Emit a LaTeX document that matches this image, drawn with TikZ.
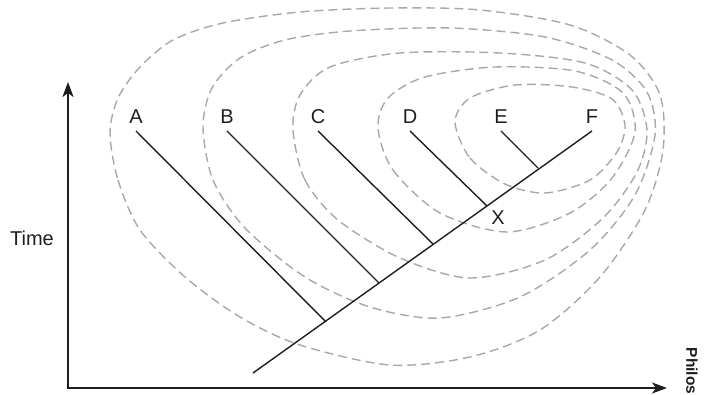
\documentclass[tikz,border=0pt]{standalone}
\usepackage{fontspec}
\setmainfont{Liberation Sans}
\usetikzlibrary{arrows.meta,positioning}
\definecolor{CladeGray}{RGB}{168,168,168}
\definecolor{TreeBlack}{RGB}{30,30,30}

\begin{document}
\begin{tikzpicture}[
  x=1pt, y=-1pt,
  font=\fontsize{20}{24}\selectfont,
  taxon/.style={
    anchor=south, text=TreeBlack,
    inner xsep=1pt, inner ysep=7pt
  },
  branch/.style={
    draw=TreeBlack, line width=1.4pt
  },
  clade/.style={
    draw=CladeGray, line width=1.4pt,
    dash pattern=on 9pt off 5pt
  },
  axis/.style={
    draw=TreeBlack, line width=2pt,
    -{Stealth[length=15pt, width=11pt, inset=4pt]}
  }
]
\useasboundingbox (0,0) rectangle (705,395);

% nested clades
\draw[clade] plot[smooth cycle] coordinates {
  (110,133) (118,180) (140,230) (185,277) (240,317) (300,345)
  (390,365) (470,357) (540,330) (600,277) (645,210) (663,150)
  (660,95) (630,55) (570,25) (480,10) (390,8) (300,12)
  (223,23) (173,40) (140,67) (118,98)};
\draw[clade] plot[smooth cycle] coordinates {
  (203,127) (213,180) (245,228) (305,277) (370,307) (440,318)
  (520,297) (590,250) (635,195) (655,135) (647,92) (612,60)
  (545,37) (450,28) (350,31) (285,40) (240,58) (212,88)};
\draw[clade] plot[smooth cycle] coordinates {
  (293,130) (305,180) (338,220) (400,258) (470,278) (545,260)
  (603,218) (637,172) (647,130) (632,90) (585,63) (500,53)
  (400,53) (330,67) (300,95)};
\draw[clade] plot[smooth cycle] coordinates {
  (378,128) (393,170) (440,213) (507,232) (570,213) (612,178)
  (635,132) (623,93) (575,71) (495,67) (425,77) (388,98)};
\draw[clade] plot[smooth cycle] coordinates {
  (455,122) (470,158) (505,184) (545,193) (590,180) (617,152)
  (625,125) (612,99) (572,87) (515,85) (470,98)};

% taxa
\node[taxon] (A) at (136,131) {A};
\node[taxon] (B) at (227,131) {B};
\node[taxon] (C) at (318,131) {C};
\node[taxon] (D) at (410,131) {D};
\node[taxon] (E) at (501,131) {E};
\node[taxon] (F) at (592,131) {F};

% tree
\coordinate (root) at (253,373);
\coordinate (jA) at (326,322);
\coordinate (jB) at (379,283);
\coordinate (jC) at (433,244);
\coordinate (jD) at (487,206);
\coordinate (jE) at (538,168);

\draw[branch] (root) -- (F.south);
\foreach \t in {A,B,C,D,E}
  \draw[branch] (\t.south) -- (j\t);

\node[text=TreeBlack] (X) at (498,218) {X};

% axes
\coordinate (origin) at (68,388);
\coordinate (ytip) at (68,82);
\coordinate (xtip) at (667,388);
\draw[axis] ([yshift=-1pt]origin) -- (ytip);
\draw[axis] ([xshift=-1pt]origin) -- (xtip);
\node[text=TreeBlack] (time) at (32,238) {Time};

\node[rotate=-90, text=TreeBlack,
  font=\bfseries\fontsize{15.5}{18}\selectfont]
  (philos) at (692,371) {Philos};
\end{tikzpicture}
\end{document}
